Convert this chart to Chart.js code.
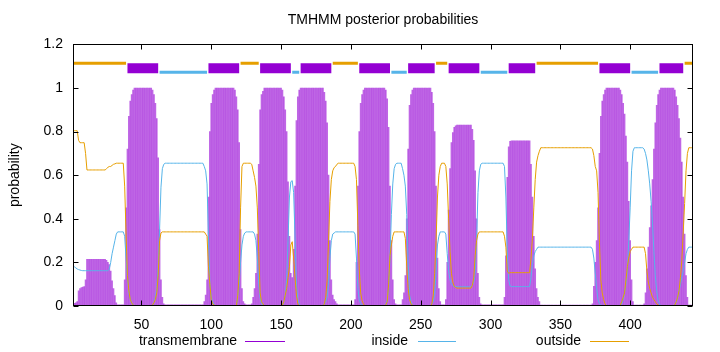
<!DOCTYPE html>
<html lang="en">
<head>
    <meta charset="UTF-8">
    <title>TMHMM posterior probabilities</title>
    <script src="https://cdn.jsdelivr.net/npm/chart.js"></script>
    <style>
        html, body { margin: 0; padding: 0; background: #fff; }
        #wrap { width: 720px; height: 352px; }
    </style>
</head>
<body>
    <div id="wrap"><canvas id="tmhmmChart" width="720" height="352"></canvas></div>

    <script>
        // x axis ticks / y axis ticks
        const xTicks = [50, 100, 150, 200, 250, 300, 350, 400];
        const yTicks = [0, 0.2, 0.4, 0.6, 0.8, 1, 1.2];
        const seqLength = 445;

        // predicted topology (residue ranges)
        const outsideSegs = [[1, 39], [121, 134], [187, 205], [261, 269], [333, 377], [439, 445]];
        const tmSegs = [[40, 62], [98, 120], [135, 157], [164, 186], [206, 228], [241, 260], [270, 292], [313, 332], [378, 400], [421, 438]];
        const insideSegs = [[63, 97], [158, 163], [229, 240], [293, 312], [401, 420]];

        // posterior probability per residue (1..445)
        const transmembrane = [
            0.011, 0.012, 0.015, 0.02, 0.07, 0.08, 0.085, 0.087, 0.089, 0.12,
            0.214, 0.214, 0.214, 0.214, 0.214, 0.214, 0.214, 0.214, 0.214, 0.214,
            0.214, 0.214, 0.214, 0.214, 0.21, 0.2, 0.19, 0.16, 0.115, 0.08,
            0.048, 0.015, 0.005, 0.005, 0.005, 0.005, 0.005, 0.12, 0.45, 0.72,
            0.87, 0.94, 0.97, 0.99, 1, 1, 1, 1, 1, 1,
            1, 1, 1, 1, 1, 1, 1, 0.99, 0.97, 0.93,
            0.86, 0.68, 0.35, 0.12, 0.04, 0.01, 0.005, 0.005, 0.005, 0.005,
            0.005, 0.005, 0.005, 0.005, 0.005, 0.005, 0.005, 0.005, 0.005, 0.005,
            0.005, 0.005, 0.005, 0.005, 0.005, 0.005, 0.005, 0.005, 0.005, 0.005,
            0.005, 0.005, 0.005, 0.005, 0.02, 0.05, 0.12, 0.5, 0.8, 0.93,
            0.97, 0.99, 1, 1, 1, 1, 1, 1, 1, 1,
            1, 1, 1, 1, 1, 1, 0.99, 0.96, 0.9, 0.75,
            0.35, 0.08, 0.02, 0.01, 0.005, 0.005, 0.005, 0.005, 0.01, 0.04,
            0.08, 0.15, 0.33, 0.65, 0.9, 0.97, 0.985, 1, 1, 1,
            1, 1, 1, 1, 1, 1, 1, 1, 1, 1,
            0.99, 0.96, 0.9, 0.8, 0.57, 0.32, 0.15, 0.13, 0.26, 0.55,
            0.85, 0.96, 0.99, 1, 1, 1, 1, 1, 1, 1,
            1, 1, 1, 1, 1, 1, 1, 1, 1, 1,
            0.98, 0.94, 0.84, 0.6, 0.3, 0.12, 0.05, 0.03, 0.02, 0.01,
            0.005, 0.005, 0.005, 0.005, 0.005, 0.005, 0.005, 0.005, 0.005, 0.005,
            0.005, 0.005, 0.03, 0.2, 0.55, 0.8, 0.93, 0.97, 0.99, 1,
            1, 1, 1, 1, 1, 1, 1, 1, 1, 1,
            1, 1, 1, 1, 0.99, 0.95, 0.82, 0.55, 0.3, 0.12,
            0.03, 0.01, 0.005, 0.005, 0.005, 0.005, 0.03, 0.06, 0.14, 0.4,
            0.72, 0.92, 0.97, 0.99, 1, 1, 1, 1, 1, 1,
            1, 1, 1, 1, 1, 1, 1, 0.98, 0.93, 0.8,
            0.55, 0.22, 0.08, 0.02, 0.005, 0.005, 0.005, 0.03, 0.2, 0.44,
            0.63, 0.75, 0.795, 0.82, 0.827, 0.83, 0.83, 0.83, 0.83, 0.83,
            0.83, 0.83, 0.83, 0.83, 0.83, 0.83, 0.81, 0.76, 0.62, 0.4,
            0.15, 0.04, 0.01, 0.005, 0.005, 0.005, 0.005, 0.005, 0.005, 0.005,
            0.005, 0.005, 0.005, 0.005, 0.005, 0.005, 0.005, 0.005, 0.005, 0.04,
            0.23, 0.59, 0.73, 0.755, 0.758, 0.758, 0.758, 0.758, 0.758, 0.758,
            0.758, 0.758, 0.758, 0.758, 0.758, 0.758, 0.758, 0.758, 0.65, 0.5,
            0.32, 0.17, 0.08, 0.04, 0.02, 0.004, 0.004, 0.004, 0.004, 0.004,
            0.004, 0.004, 0.004, 0.004, 0.004, 0.004, 0.004, 0.004, 0.004, 0.004,
            0.004, 0.004, 0.004, 0.004, 0.004, 0.004, 0.004, 0.004, 0.004, 0.004,
            0.004, 0.004, 0.004, 0.004, 0.004, 0.004, 0.004, 0.004, 0.004, 0.004,
            0.004, 0.004, 0.01, 0.09, 0.2, 0.3, 0.45, 0.7, 0.87, 0.94,
            0.97, 0.99, 1, 1, 1, 1, 1, 1, 1, 1,
            1, 1, 0.99, 0.97, 0.93, 0.88, 0.78, 0.66, 0.48, 0.3,
            0.12, 0.02, 0.004, 0.004, 0.004, 0.004, 0.004, 0.004, 0.004, 0.01,
            0.06, 0.17, 0.27, 0.36, 0.46, 0.58, 0.72, 0.84, 0.92, 0.97,
            0.99, 1, 1, 1, 1, 1, 1, 1, 1, 1,
            1, 0.99, 0.96, 0.92, 0.86, 0.77, 0.66, 0.5, 0.33, 0.14,
            0.04, 0.004, 0.004, 0.004, 0.004
        ];
        const inside = [
            0.185, 0.18, 0.175, 0.17, 0.167, 0.165, 0.163, 0.162, 0.162, 0.162,
            0.162, 0.162, 0.162, 0.162, 0.162, 0.162, 0.162, 0.162, 0.162, 0.162,
            0.162, 0.162, 0.162, 0.162, 0.162, 0.162, 0.17, 0.2, 0.24, 0.27,
            0.3, 0.33, 0.34, 0.34, 0.34, 0.34, 0.34, 0.32, 0.22, 0.13,
            0.06, 0.03, 0.015, 0.005, 0, 0, 0, 0, 0, 0,
            0, 0, 0, 0, 0, 0, 0, 0.005, 0.015, 0.04,
            0.08, 0.18, 0.35, 0.545, 0.63, 0.65, 0.655, 0.655, 0.655, 0.655,
            0.655, 0.655, 0.655, 0.655, 0.655, 0.655, 0.655, 0.655, 0.655, 0.655,
            0.655, 0.655, 0.655, 0.655, 0.655, 0.655, 0.655, 0.655, 0.655, 0.655,
            0.655, 0.655, 0.655, 0.655, 0.64, 0.62, 0.56, 0.32, 0.1, 0.04,
            0.02, 0.005, 0, 0, 0, 0, 0, 0, 0, 0,
            0, 0, 0, 0, 0, 0, 0, 0, 0.05, 0.1,
            0.2, 0.28, 0.32, 0.335, 0.34, 0.34, 0.34, 0.34, 0.34, 0.34,
            0.33, 0.3, 0.22, 0.1, 0.04, 0.01, 0.005, 0, 0, 0,
            0, 0, 0, 0, 0, 0, 0, 0, 0, 0,
            0.005, 0.02, 0.05, 0.12, 0.3, 0.5, 0.57, 0.575, 0.52, 0.32,
            0.1, 0.03, 0.01, 0, 0, 0, 0, 0, 0, 0,
            0, 0, 0, 0, 0, 0, 0, 0, 0, 0,
            0.01, 0.02, 0.04, 0.1, 0.22, 0.3, 0.33, 0.335, 0.34, 0.34,
            0.34, 0.34, 0.34, 0.34, 0.34, 0.34, 0.34, 0.34, 0.34, 0.34,
            0.34, 0.34, 0.33, 0.22, 0.08, 0.03, 0.01, 0.005, 0, 0,
            0, 0, 0, 0, 0, 0, 0, 0, 0, 0,
            0, 0, 0, 0, 0.005, 0.03, 0.08, 0.22, 0.42, 0.56,
            0.63, 0.65, 0.655, 0.655, 0.655, 0.655, 0.63, 0.6, 0.55, 0.42,
            0.2, 0.05, 0.02, 0.005, 0, 0, 0, 0, 0, 0,
            0, 0, 0, 0, 0, 0, 0, 0.01, 0.02, 0.05,
            0.15, 0.28, 0.32, 0.34, 0.34, 0.34, 0.34, 0.33, 0.24, 0.16,
            0.12, 0.1, 0.095, 0.09, 0.089, 0.088, 0.088, 0.088, 0.088, 0.088,
            0.088, 0.088, 0.088, 0.088, 0.088, 0.088, 0.095, 0.11, 0.15, 0.3,
            0.52, 0.62, 0.65, 0.655, 0.655, 0.655, 0.655, 0.655, 0.655, 0.655,
            0.655, 0.655, 0.655, 0.655, 0.655, 0.655, 0.655, 0.655, 0.655, 0.64,
            0.5, 0.25, 0.12, 0.092, 0.089, 0.089, 0.089, 0.089, 0.089, 0.089,
            0.089, 0.089, 0.089, 0.089, 0.089, 0.089, 0.089, 0.089, 0.13, 0.19,
            0.23, 0.25, 0.26, 0.27, 0.27, 0.27, 0.27, 0.27, 0.27, 0.27,
            0.27, 0.27, 0.27, 0.27, 0.27, 0.27, 0.27, 0.27, 0.27, 0.27,
            0.27, 0.27, 0.27, 0.27, 0.27, 0.27, 0.27, 0.27, 0.27, 0.27,
            0.27, 0.27, 0.27, 0.27, 0.27, 0.27, 0.27, 0.27, 0.27, 0.27,
            0.27, 0.27, 0.26, 0.22, 0.15, 0.08, 0.03, 0.01, 0.005, 0,
            0, 0, 0, 0, 0, 0, 0, 0, 0, 0,
            0, 0, 0.005, 0.01, 0.03, 0.06, 0.1, 0.16, 0.3, 0.45,
            0.62, 0.71, 0.726, 0.726, 0.726, 0.726, 0.726, 0.726, 0.726, 0.72,
            0.7, 0.67, 0.62, 0.56, 0.48, 0.38, 0.25, 0.14, 0.07, 0.025,
            0.01, 0, 0, 0, 0, 0, 0, 0, 0, 0,
            0, 0.005, 0.02, 0.04, 0.07, 0.1, 0.13, 0.16, 0.2, 0.24,
            0.26, 0.27, 0.27, 0.27, 0.27
        ];
        const outside = [
            0.804, 0.804, 0.804, 0.804, 0.76, 0.749, 0.749, 0.749, 0.749, 0.7,
            0.624, 0.624, 0.624, 0.624, 0.624, 0.624, 0.624, 0.624, 0.624, 0.624,
            0.624, 0.624, 0.624, 0.624, 0.63, 0.636, 0.64, 0.64, 0.645, 0.65,
            0.652, 0.655, 0.655, 0.655, 0.655, 0.655, 0.655, 0.55, 0.33, 0.14,
            0.07, 0.03, 0.015, 0.005, 0, 0, 0, 0, 0, 0,
            0, 0, 0, 0, 0, 0, 0, 0.005, 0.015, 0.03,
            0.06, 0.14, 0.3, 0.335, 0.34, 0.34, 0.34, 0.34, 0.34, 0.34,
            0.34, 0.34, 0.34, 0.34, 0.34, 0.34, 0.34, 0.34, 0.34, 0.34,
            0.34, 0.34, 0.34, 0.34, 0.34, 0.34, 0.34, 0.34, 0.34, 0.34,
            0.34, 0.34, 0.34, 0.34, 0.34, 0.33, 0.32, 0.18, 0.1, 0.03,
            0.01, 0.005, 0, 0, 0, 0, 0, 0, 0, 0,
            0, 0, 0, 0, 0, 0, 0, 0, 0.05, 0.15,
            0.45, 0.64, 0.655, 0.655, 0.655, 0.655, 0.655, 0.655, 0.65, 0.62,
            0.59, 0.55, 0.45, 0.25, 0.06, 0.02, 0.01, 0, 0, 0,
            0, 0, 0, 0, 0, 0, 0, 0, 0, 0,
            0.005, 0.02, 0.05, 0.08, 0.13, 0.18, 0.28, 0.295, 0.22, 0.13,
            0.05, 0.01, 0, 0, 0, 0, 0, 0, 0, 0,
            0, 0, 0, 0, 0, 0, 0, 0, 0, 0,
            0.01, 0.04, 0.12, 0.3, 0.48, 0.58, 0.62, 0.635, 0.64, 0.65,
            0.655, 0.655, 0.655, 0.655, 0.655, 0.655, 0.655, 0.655, 0.655, 0.655,
            0.655, 0.655, 0.64, 0.58, 0.37, 0.17, 0.06, 0.025, 0.01, 0,
            0, 0, 0, 0, 0, 0, 0, 0, 0, 0,
            0, 0, 0, 0, 0.005, 0.02, 0.1, 0.23, 0.28, 0.32,
            0.34, 0.34, 0.34, 0.34, 0.34, 0.34, 0.34, 0.34, 0.31, 0.18,
            0.08, 0.03, 0.01, 0.005, 0, 0, 0, 0, 0, 0,
            0, 0, 0, 0, 0, 0, 0, 0.01, 0.05, 0.15,
            0.3, 0.5, 0.6, 0.64, 0.655, 0.655, 0.655, 0.64, 0.56, 0.4,
            0.25, 0.15, 0.11, 0.09, 0.085, 0.082, 0.082, 0.082, 0.082, 0.082,
            0.082, 0.082, 0.082, 0.082, 0.082, 0.082, 0.095, 0.13, 0.23, 0.3,
            0.33, 0.34, 0.34, 0.34, 0.34, 0.34, 0.34, 0.34, 0.34, 0.34,
            0.34, 0.34, 0.34, 0.34, 0.34, 0.34, 0.34, 0.34, 0.34, 0.32,
            0.27, 0.16, 0.15, 0.153, 0.153, 0.153, 0.153, 0.153, 0.153, 0.153,
            0.153, 0.153, 0.153, 0.153, 0.153, 0.153, 0.153, 0.153, 0.22, 0.31,
            0.45, 0.58, 0.66, 0.69, 0.71, 0.726, 0.726, 0.726, 0.726, 0.726,
            0.726, 0.726, 0.726, 0.726, 0.726, 0.726, 0.726, 0.726, 0.726, 0.726,
            0.726, 0.726, 0.726, 0.726, 0.726, 0.726, 0.726, 0.726, 0.726, 0.726,
            0.726, 0.726, 0.726, 0.726, 0.726, 0.726, 0.726, 0.726, 0.726, 0.726,
            0.726, 0.726, 0.72, 0.69, 0.64, 0.62, 0.52, 0.29, 0.12, 0.06,
            0.03, 0.01, 0, 0, 0, 0, 0, 0, 0, 0,
            0, 0, 0.005, 0.02, 0.04, 0.06, 0.12, 0.18, 0.22, 0.25,
            0.26, 0.27, 0.27, 0.27, 0.27, 0.27, 0.27, 0.27, 0.27, 0.27,
            0.24, 0.16, 0.11, 0.08, 0.06, 0.04, 0.03, 0.02, 0.01, 0.005,
            0, 0, 0, 0, 0, 0, 0, 0, 0, 0,
            0, 0.005, 0.02, 0.04, 0.07, 0.13, 0.21, 0.34, 0.47, 0.62,
            0.7, 0.726, 0.726, 0.726, 0.726
        ];

        const PURPLE = '#9400d3';
        const BLUE = '#56b4e9';
        const ORANGE = '#e69f00';

        // heights of the topology band above the curves
        const bandLevel = { outside: 1.113, tm: 1.091, inside: 1.072 };

        function toPoints(arr) {
            return arr.map((v, i) => ({ x: i + 1, y: v }));
        }

        function bandPoints(segs, level) {
            const pts = [];
            segs.forEach(([a, b]) => {
                pts.push({ x: a, y: level }, { x: b, y: level }, { x: b, y: null });
            });
            return pts;
        }

        // gnuplot-like frame with inward ticks on all four sides
        const framePlugin = {
            id: 'frame',
            afterDatasetsDraw(chart) {
                const { ctx, chartArea: a, scales } = chart;
                const L = Math.round(a.left) + 0.5, R = Math.round(a.right) - 0.5;
                const T = Math.round(a.top) + 0.5, B = Math.round(a.bottom) - 0.5;
                ctx.save();
                ctx.strokeStyle = '#000';
                ctx.lineWidth = 1;
                ctx.beginPath();
                xTicks.forEach(v => {
                    const px = Math.round(scales.x.getPixelForValue(v)) + 0.5;
                    ctx.moveTo(px, B); ctx.lineTo(px, B - 5);
                    ctx.moveTo(px, T); ctx.lineTo(px, T + 5);
                });
                yTicks.forEach(v => {
                    const py = Math.round(scales.y.getPixelForValue(v)) + 0.5;
                    ctx.moveTo(L, py); ctx.lineTo(L + 5, py);
                    ctx.moveTo(R, py); ctx.lineTo(R - 5, py);
                });
                ctx.stroke();
                ctx.strokeRect(L, T, R - L, B - T);
                ctx.restore();
            }
        };

        // legend below the axis: text first, sample line after it
        const legendItems = [
            { label: 'transmembrane', color: PURPLE, textRight: 237, x0: 245, x1: 285 },
            { label: 'inside', color: BLUE, textRight: 408, x0: 418, x1: 456 },
            { label: 'outside', color: ORANGE, textRight: 581, x0: 590, x1: 629 }
        ];
        const bottomLegend = {
            id: 'bottomLegend',
            afterDraw(chart) {
                const ctx = chart.ctx;
                const y = 341;
                ctx.save();
                ctx.font = '14px "Liberation Sans", Arial, sans-serif';
                ctx.fillStyle = '#000';
                ctx.textAlign = 'right';
                ctx.textBaseline = 'middle';
                legendItems.forEach(it => {
                    ctx.fillText(it.label, it.textRight, y);
                    ctx.strokeStyle = it.color;
                    ctx.lineWidth = 1;
                    ctx.beginPath();
                    ctx.moveTo(it.x0, y + 0.5);
                    ctx.lineTo(it.x1, y + 0.5);
                    ctx.stroke();
                });
                ctx.restore();
            }
        };

        Chart.defaults.font.family = '"Liberation Sans", Arial, sans-serif';
        Chart.defaults.font.size = 14;
        Chart.defaults.color = '#000';

        const ctx = document.getElementById('tmhmmChart').getContext('2d');
        const chart = new Chart(ctx, {
            type: 'line',
            data: {
                datasets: [
                    {
                        type: 'bar',
                        label: 'transmembrane',
                        data: toPoints(transmembrane),
                        backgroundColor: 'rgba(148, 0, 211, 0.6)',
                        borderWidth: 0,
                        barThickness: 1,
                        grouped: false,
                        order: 5
                    },
                    {
                        label: 'inside',
                        data: toPoints(inside),
                        borderColor: BLUE,
                        borderWidth: 1,
                        pointRadius: 0,
                        tension: 0,
                        order: 2
                    },
                    {
                        label: 'outside',
                        data: toPoints(outside),
                        borderColor: ORANGE,
                        borderWidth: 1,
                        pointRadius: 0,
                        tension: 0,
                        order: 1
                    },
                    {
                        label: 'band outside',
                        data: bandPoints(outsideSegs, bandLevel.outside),
                        borderColor: ORANGE,
                        borderWidth: 3,
                        borderCapStyle: 'butt',
                        pointRadius: 0,
                        spanGaps: false,
                        order: 0
                    },
                    {
                        label: 'band inside',
                        data: bandPoints(insideSegs, bandLevel.inside),
                        borderColor: BLUE,
                        borderWidth: 3,
                        borderCapStyle: 'butt',
                        pointRadius: 0,
                        spanGaps: false,
                        order: 0
                    },
                    {
                        label: 'band tm',
                        data: bandPoints(tmSegs, bandLevel.tm),
                        borderColor: PURPLE,
                        borderWidth: 10,
                        borderCapStyle: 'butt',
                        pointRadius: 0,
                        spanGaps: false,
                        order: 0
                    }
                ]
            },
            options: {
                responsive: false,
                animation: false,
                events: [],
                layout: { padding: { left: 0, right: 27, top: 0, bottom: 0 } },
                plugins: {
                    legend: { display: false },
                    tooltip: { enabled: false },
                    title: {
                        display: true,
                        fullSize: false,
                        text: 'TMHMM posterior probabilities',
                        font: { size: 14, weight: 'normal' },
                        color: '#000',
                        padding: { top: 12, bottom: 15.6 }
                    }
                },
                scales: {
                    x: {
                        type: 'linear',
                        min: 1,
                        max: seqLength,
                        offset: false,
                        grid: { display: false, drawTicks: false, offset: false },
                        border: { display: false },
                        afterBuildTicks: s => { s.ticks = xTicks.map(v => ({ value: v })); },
                        afterFit: s => { s.height = 46; },
                        ticks: { padding: 11, maxRotation: 0, autoSkip: false, color: '#000' }
                    },
                    y: {
                        min: 0,
                        max: 1.2,
                        grid: { display: false, drawTicks: false },
                        border: { display: false },
                        afterBuildTicks: s => { s.ticks = yTicks.map(v => ({ value: v })); },
                        afterFit: s => { s.width = 73; },
                        ticks: {
                            padding: 10,
                            color: '#000',
                            callback: v => String(Number(v.toFixed(1)))
                        },
                        title: {
                            display: true,
                            text: 'probability',
                            color: '#000',
                            font: { size: 14 },
                            padding: { top: 7, bottom: 0 }
                        }
                    }
                }
            },
            plugins: [framePlugin, bottomLegend]
        });
    </script>
</body>
</html>
